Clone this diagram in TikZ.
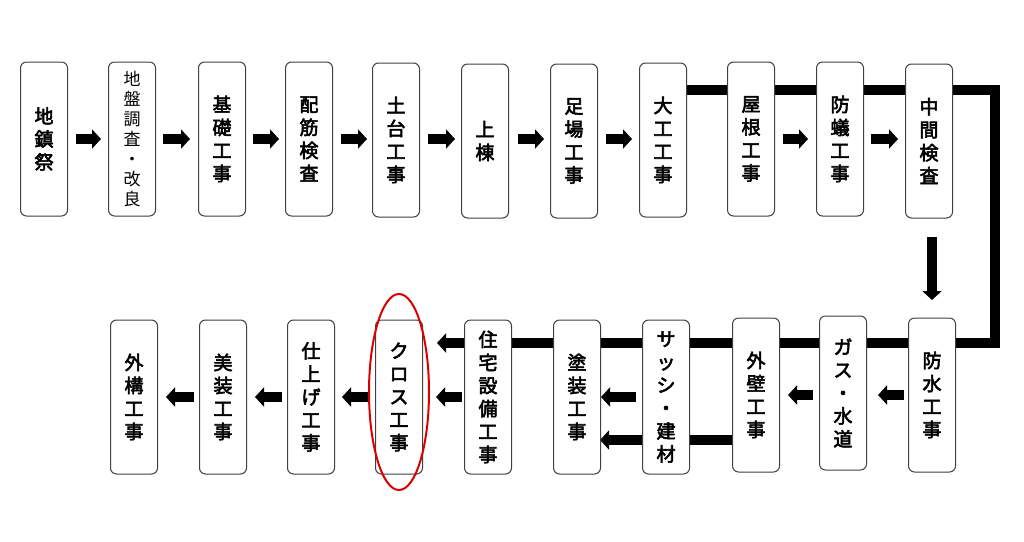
\documentclass[tikz,border=0pt]{standalone}
\usepackage{fontspec}
\newfontfamily\jp[FakeBold=3]{Noto Sans CJK JP}
\newfontfamily\jplight{Noto Sans CJK JP}
\usetikzlibrary{positioning,arrows.meta,shapes.geometric}
\tikzset{%
  block/.style = {draw=black!75, line width=1pt, rectangle, rounded corners=6pt,
    fill=white, minimum height=154pt, minimum width=47pt, align=center,
    font=\jp\fontsize{19}{23}\selectfont, inner sep=0pt},
  thin/.style  = {font=\jplight\fontsize{17}{20}\selectfont}, % not bold
  flow/.style  = {line width=10pt, -{Triangle[length=9pt,width=19pt]}},
  bar/.style   = {line width=10pt}
}
\begin{document}
\begin{tikzpicture}[x=1pt, y=-1pt]
	\useasboundingbox (0,0) rectangle (1024,541);

	% background lines first
	\coordinate (tr) at (995,90);
	\coordinate (br) at (995,343);
	\coordinate (bl) at (437,343);
	\coordinate (lo) at (600,440);
	\draw[bar, line join=miter] (687,90) -- (tr) -- (br) -- (470,343);
	\draw[flow] (480,343) -- (bl);
	\draw[bar] (740,440) -- (640,440);
	\draw[flow] (650,440) -- (lo);

	% top row
	\node at (44,139) [block] (jichin) {地\\鎮\\祭};
	\node at (132,139) [block, thin] (chiban) {地\\盤\\調\\査\\・\\改\\良};
	\node at (222,139) [block] (kiso) {基\\礎\\工\\事};
	\node at (309,139) [block] (haikin) {配\\筋\\検\\査};
	\node at (396,140) [block] (dodai) {土\\台\\工\\事};
	\node at (485,141) [block] (jouto) {上\\棟};
	\node at (574,141) [block] (ashiba) {足\\場\\工\\事};
	\node at (663,140) [block] (daiku) {大\\工\\工\\事};
	\node at (751,139) [block] (yane) {屋\\根\\工\\事};
	\node at (840,139) [block] (bogi) {防\\蟻\\工\\事};
	\node at (929,141) [block] (chukan) {中\\間\\検\\査};

	% bottom row
	\node at (932,395) [block] (bosui) {防\\水\\工\\事};
	\node at (843,393) [block] (gas) {ガ\\ス\\・\\水\\道};
	\node at (756,395) [block] (gaiheki) {外\\壁\\工\\事};
	\node at (666,397) [block] (sash) {サ\\ッ\\シ\\・\\建\\材};
	\node at (577,397) [block] (toso) {塗\\装\\工\\事};
	\node at (488,397) [block] (jutaku) {住\\宅\\設\\備\\工\\事};
	\node at (399,397) [block] (cloth) {ク\\ロ\\ス\\工\\事};
	\node at (311,397) [block] (shiage) {仕\\上\\げ\\工\\事};
	\node at (223,397) [block] (biso) {美\\装\\工\\事};
	\node at (134,397) [block] (gaiko) {外\\構\\工\\事};
	\node[draw=red!85!black, line width=2pt, ellipse, minimum width=60pt,
	  minimum height=196pt] at (399,392) (mark) {};

	% short arrows, top
	\draw[flow] (76,139) -- (101,139);
	\draw[flow] (163,139) -- (190,139);
	\draw[flow] (253,139) -- (279,139);
	\draw[flow] (341,139) -- (367,139);
	\draw[flow] (428,139) -- (455,139);
	\draw[flow] (518,139) -- (544,139);
	\draw[flow] (606,139) -- (632,139);
	\draw[flow] (783,139) -- (808,139);
	\draw[flow] (871,139) -- (898,139);
	\draw[flow] (932,237) -- (932,300);

	% short arrows, bottom
	\draw[flow] (904,395) -- (878,395);
	\draw[flow] (813,395) -- (788,395);
	\draw[flow] (636,397) -- (601,397);
	\draw[flow] (462,397) -- (436,397);
	\draw[flow] (368,397) -- (342,397);
	\draw[flow] (282,397) -- (255,397);
	\draw[flow] (194,397) -- (166,397);
\end{tikzpicture}
\end{document}
